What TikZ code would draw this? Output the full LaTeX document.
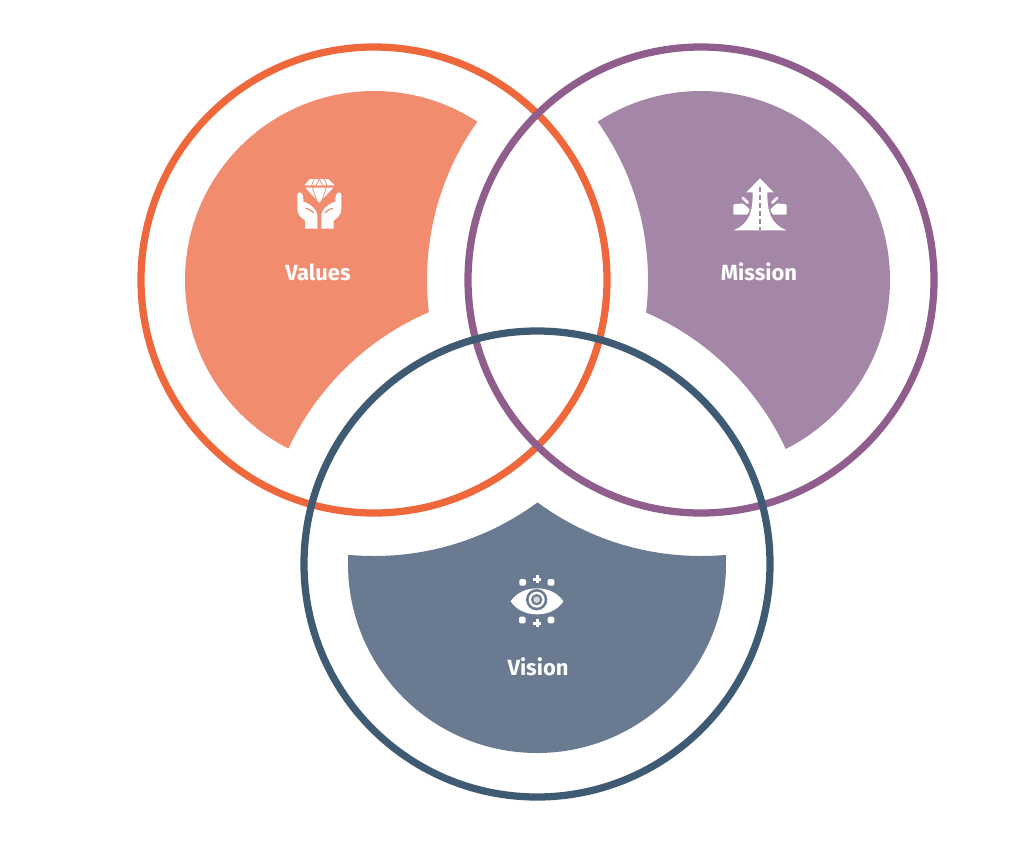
\documentclass[tikz,border=0pt]{standalone}
\usepackage{fontspec}
\setsansfont{Fira Sans}
\usepackage{xcolor}
\definecolor{valuesline}{RGB}{238,104,60}
\definecolor{valuesfill}{RGB}{241,140,110}
\definecolor{missionline}{RGB}{143,94,140}
\definecolor{missionfill}{RGB}{164,134,166}
\definecolor{visionline}{RGB}{63,91,115}
\definecolor{visionfill}{RGB}{106,122,144}
\begin{document}
\begin{tikzpicture}[x=0.02cm,y=-0.02cm]
    \tikzstyle{ring}=[line width=0.145cm,fill=none]
    \tikzstyle{caption}=[text=white,font=\sffamily\bfseries\fontsize{12.5}{14}\selectfont]
    \tikzstyle{icon}=[fill=white,draw=none]
    \useasboundingbox (0,0) rectangle (1024,842);

    \coordinate (values) at (374,280);
    \coordinate (mission) at (701,280);
    \coordinate (vision) at (537,564);

    % petals: inner disc minus the wide circles of the two others
    \begin{scope}[even odd rule]
      \clip (0,0) rectangle (1024,842) (mission) circle (274);
      \clip (0,0) rectangle (1024,842) (vision) circle (274);
      \fill[valuesfill,nonzero rule] (values) circle (189);
    \end{scope}
    \begin{scope}[even odd rule]
      \clip (0,0) rectangle (1024,842) (values) circle (274);
      \clip (0,0) rectangle (1024,842) (vision) circle (274);
      \fill[missionfill,nonzero rule] (mission) circle (189);
    \end{scope}
    \begin{scope}[even odd rule]
      \clip (0,0) rectangle (1024,842) (values) circle (276);
      \clip (0,0) rectangle (1024,842) (mission) circle (276);
      \fill[visionfill,nonzero rule] (vision) circle (189);
    \end{scope}

    \draw[ring,draw=valuesline] (values) circle (233);
    \draw[ring,draw=missionline] (mission) circle (233);
    \draw[ring,draw=visionline] (vision) circle (233);

    \node[caption] (valueslabel) at (318,272) {Values};
    \node[caption] (missionlabel) at (759,272) {Mission};
    \node[caption] (visionlabel) at (538,667) {Vision};

    % hands and diamond
    \begin{scope}[shift={(260,160)},scale=1/3]
      \fill[icon] (150,57) -- (205,57) -- (224,76) -- (133,76) -- cycle;
      \fill[icon] (136,83) -- (220,83) -- (178,128) -- cycle;
      \draw[valuesfill,line width=0.015cm] (163,57) -- (155,76) -- (172,128) (193,57) -- (201,76) -- (184,128)
        (178,57) -- (168,76) (178,57) -- (188,76);
      \foreach \side in {1,-1} {
        \begin{scope}[shift={(178,0)},xscale=\side]
          \fill[icon] (-58,97) .. controls (-50,98) and (-48,105) .. (-48,125)
            .. controls (-34,128) and (-8,145) .. (-6,165) -- (-6,206) -- (-43,206) -- (-43,182)
            .. controls (-55,172) and (-66,165) .. (-66,145) -- (-66,105)
            .. controls (-66,100) and (-62,97) .. (-58,97) -- cycle;
          \draw[valuesfill,line width=0.025cm,line cap=round] (-40,145) .. controls (-30,148) and (-24,150) .. (-18,158);
        \end{scope}
      }
    \end{scope}

    % road arrow
    \begin{scope}[shift={(700,160)},scale=1/3]
      \fill[icon] (180,55) -- (221,97) -- (202,97) .. controls (202,150) and (208,190) .. (260,211)
        -- (100,211) .. controls (152,190) and (158,150) .. (158,97) -- (139,97) -- cycle;
      \draw[missionfill,line width=0.035cm,dash pattern=on 0.09cm off 0.07cm] (180,82) -- (180,211);
      \foreach \side in {1,-1} {
        \begin{scope}[shift={(180,0)},xscale=\side]
          \fill[icon,rounded corners=0.02cm] (-80,164) -- (-80,133) -- (-52,130) -- (-30,148) -- (-38,164) -- cycle;
          \draw[white,line width=0.05cm,line cap=round] (-52,113) -- (-37,128);
        \end{scope}
      }
    \end{scope}

    % eye with sparks
    \begin{scope}[shift={(480,560)},scale=1/3]
      \fill[icon] (92,124) .. controls (125,72) and (217,72) .. (250,124)
        .. controls (217,176) and (125,176) .. (92,124) -- cycle;
      \fill[visionfill] (170,119) circle (32);
      \fill[icon] (170,119) circle (24);
      \fill[visionfill] (170,119) circle (17);
      \fill[white!70!visionfill] (170,119) circle (10);
      \foreach \sx/\sy in {128/67,213/67,127/180,213/180}
        \fill[icon,rounded corners=0.03cm] (\sx-10,\sy-10) rectangle (\sx+10,\sy+10);
      \foreach \sx/\sy in {172/58,172/190} {
        \fill[icon] (\sx-12,\sy-5) rectangle (\sx+12,\sy+5);
        \fill[icon] (\sx-5,\sy-12) rectangle (\sx+5,\sy+12);
      }
    \end{scope}
\end{tikzpicture}
\end{document}
